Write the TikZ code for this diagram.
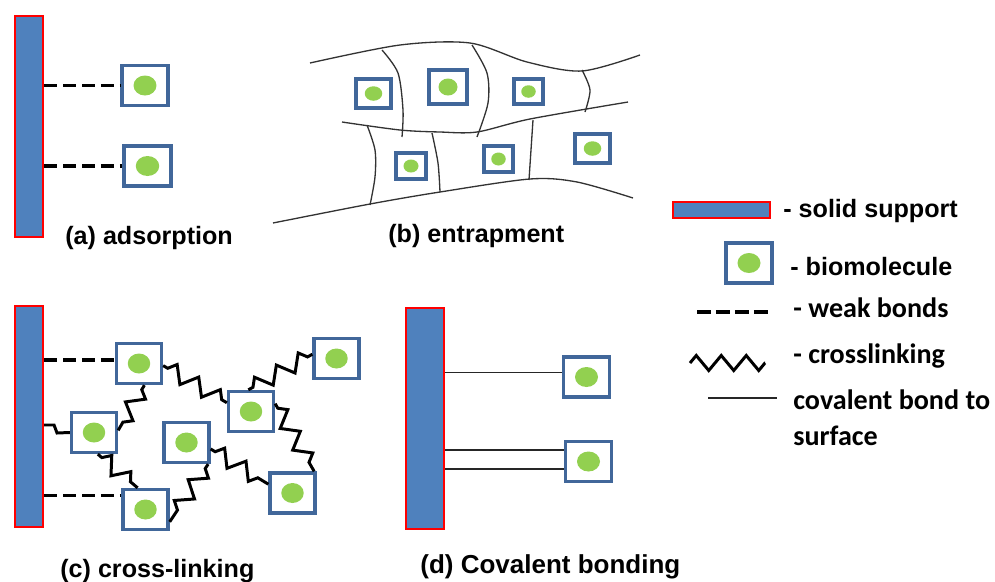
\documentclass[tikz,border=0pt]{standalone}
\usepackage{xcolor}
\usepackage{fontspec}
\setmainfont{Liberation Sans}
\newfontfamily\calfont{Carlito}
\usepackage{tikz}
\usetikzlibrary{calc,decorations.pathmorphing}

\definecolor{supblue}{HTML}{4F81BD}
\definecolor{supred}{HTML}{FF0000}
\definecolor{boxblue}{HTML}{41679A}
\definecolor{dotgreen}{HTML}{92D050}
\definecolor{gelgray}{HTML}{333333}

\tikzset{
	support/.style={draw=supred, line width=1.2pt, fill=supblue, inner sep=0pt,
		minimum width=0.56cm, minimum height=4.42cm},
	biomol/.style={draw=boxblue, line width=1.9pt, fill=white, inner sep=0pt,
		minimum width=0.92cm, minimum height=0.80cm,
		path picture={\fill[dotgreen] let \p1=($(path picture bounding box.north east)-(path picture bounding box.south west)$) in
			(path picture bounding box.center) ellipse [x radius=0.25*\x1, y radius=0.25*\y1];}},
	weakbond/.style={line width=2.2pt, dash pattern=on 7.6pt off 3.2pt},
	linkpen/.style={line width=1.7pt, line join=miter},
	xlink/.style={linkpen, decorate, decoration={zigzag, segment length=0.5cm, amplitude=0.16cm, pre length=3pt, post length=3pt}},
	covbond/.style={line width=0.9pt, black!85},
	gelline/.style={line width=0.75pt, gelgray},
	armtext/.style={font=\fontsize{14.3}{17}\selectfont\bfseries, inner sep=0pt, anchor=base west},
	caltext/.style={font=\calfont\fontsize{16}{21}\selectfont\bfseries, inner sep=0pt, anchor=base west}
}

\begin{document}
\begin{tikzpicture}[x=0.02cm, y=-0.02cm]
	\useasboundingbox (0,0) rectangle (995,582);
	% (a) adsorption
	\node[support] (sa) at (29,126.5) {};
	\node[biomol] (a1) at (145,85.5) {};
	\node[biomol, minimum width=0.94cm] (a2) at (147.5,166) {};
	\draw[weakbond] (a1.west -| sa.east) -- (a1.west);
	\draw[weakbond] (a2.west -| sa.east) -- (a2.west);
	\node[armtext] (la) at (65,244) {(a) adsorption};
	% (b) entrapment - the gel
	\draw[gelline] plot[smooth] coordinates {(310,63) (400,45) (470,43) (527,62) (582,71) (640,55)};
	\draw[gelline] plot[smooth] coordinates {(342,122) (400,130) (440,132) (477,132) (530,119) (628,102)};
	\draw[gelline] plot[smooth] coordinates {(273,223) (370,204) (440,192) (530,179) (577,182) (633,198)};
	\draw[gelline] plot[smooth] coordinates {(382,50) (398,73) (403,110) (402,137)};
	\draw[gelline] plot[smooth] coordinates {(472,45) (487,73) (488,103) (477,137)};
	\draw[gelline] plot[smooth] coordinates {(582,70) (590,90) (585,112)};
	\draw[gelline] plot[smooth] coordinates {(367,125) (375,150) (375,177) (370,205)};
	\draw[gelline] plot[smooth] coordinates {(432,133) (438,163) (440,192)};
	\draw[gelline] (533,120) -- (529,180);
	\foreach \n/\x/\y/\w/\h in {1/373.5/93.5/0.70/0.58, 2/448/87/0.76/0.68, 3/528.5/91.5/0.58/0.50,
		4/411/166/0.60/0.52, 5/498.5/159/0.58/0.52, 6/592.5/148.5/0.70/0.58}
		\node[biomol, minimum width=\w cm, minimum height=\h cm] (b\n) at (\x,\y) {};
	\node[armtext] (lb) at (388,242) {(b) entrapment};
	% (c) cross-linking
	\node[support] (sc) at (29,416.5) {};
	\foreach \n/\x/\y in {1/139/363.5, 2/94/432.5, 3/145.5/509.5, 4/186.5/442.5,
		5/251/411.5, 6/336.5/358.5, 7/292.5/493}
		\node[biomol, minimum width=0.90cm] (c\n) at (\x,\y) {};
	\draw[weakbond] (c1.172 -| sc.east) -- (c1.172);
	\draw[weakbond] (c3.150 -| sc.east) -- (c3.150);
	\draw[linkpen] (sc.east |- 0,425) -- ++(10,0) -- ++(3,8) -- (c2.west);
	\foreach \p/\q in {c1.-5/c5.160, c1.-76/c2.5, c2.-80/c3.110, c4.-45/c3.-27,
		c4.-15/c7.160, c5.18/c7.45, c5.97/c6.170}
		\draw[xlink] (\p) -- (\q);
	\node[armtext] (lc) at (60,577) {(c) cross-linking};
	% (d) covalent bonding
	\node[support, minimum width=0.76cm] (sd) at (425,418.5) {};
	\node[biomol] (d1) at (586.5,377) {};
	\node[biomol] (d2) at (588.5,461.5) {};
	\draw[covbond] (d1.170 -| sd.east) -- (d1.170);
	\draw[covbond] (d2.155 -| sd.east) -- (d2.155);
	\draw[covbond] (d2.-163 -| sd.east) -- (d2.-163);
	\node[armtext, font=\fontsize{14.8}{17}\selectfont\bfseries] (ld) at (420,573) {(d) Covalent bonding};
	% legend
	\node[support, minimum width=1.94cm, minimum height=0.32cm] (gsup) at (721.5,210) {};
	\node[armtext] (tsup) at (783,217) {- solid support};
	\node[biomol, minimum width=0.92cm, minimum height=0.80cm] (gbio) at (749,263) {};
	\node[armtext] (tbio) at (790,275) {- biomolecule};
	\coordinate (gw1) at (697,312);
	\coordinate (gw2) at (769,312);
	\draw[weakbond, line width=2.6pt, dash pattern=on 8pt off 2.8pt] (gw1) -- (gw2);
	\node[caltext] (tweak) at (793,317) {- weak bonds};
	\coordinate (gz1) at (690,363);
	\coordinate (gz2) at (765,363);
	\draw[xlink, decoration={segment length=0.5cm, amplitude=0.15cm, pre length=0pt, post length=0pt}] (gz1) -- (gz2);
	\node[caltext] (txl) at (793,363) {- crosslinking};
	\coordinate (gc1) at (708,398);
	\coordinate (gc2) at (777,398);
	\draw[covbond] (gc1) -- (gc2);
	\node[caltext, anchor=north west, align=left] (tcov) at (793,389) {covalent bond to\\surface};
\end{tikzpicture}
\end{document}
